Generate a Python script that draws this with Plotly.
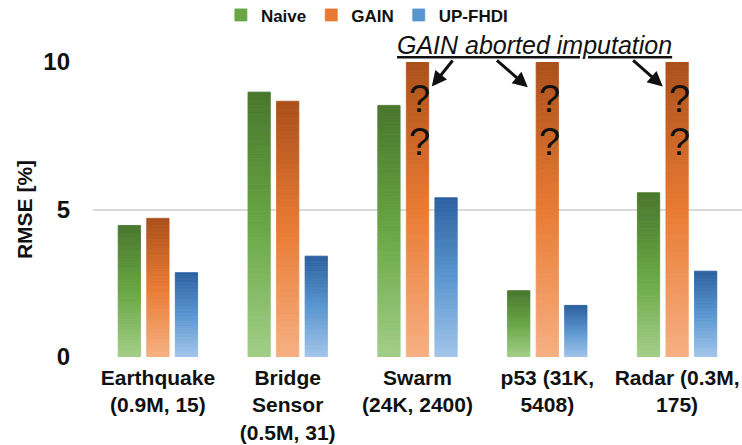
import plotly.graph_objects as go

# ---------------- data ----------------
categories = [
    "Earthquake<br>(0.9M, 15)",
    "Bridge<br>Sensor<br>(0.5M, 31)",
    "Swarm<br>(24K, 2400)",
    "p53 (31K,<br>5408)",
    "Radar (0.3M,<br>175)",
]
series_names = ["Naive", "GAIN", "UP-FHDI"]
naive_rmse = [4.46, 8.98, 8.53, 2.25, 5.57]
gain_rmse = [4.70, 8.67, 10.0, 10.0, 10.0]
upfhdi_rmse = [2.86, 3.42, 5.40, 1.75, 2.91]
gain_aborted = [False, False, True, True, True]
y_ticks = [0, 5, 10]

# ---------------- style ----------------
FONT = "Liberation Sans, Arial, sans-serif"
N_SLICES = 60
BAR_W = 0.172
SLOT = 0.22
# gradient stops: (bottom light, middle base, top dark)
gradients = [
    ("#a2cf88", "#69a644", "#48772d"),
    ("#f6b083", "#e97b33", "#ab501b"),
    ("#a3c5ea", "#5a96d0", "#2c61a0"),
]


def hex2rgb(h):
    h = h.lstrip("#")
    return tuple(int(h[i:i + 2], 16) for i in (0, 2, 4))


def grad_color(stops, t):
    a, b, c = (hex2rgb(s) for s in stops)
    if t <= 0.5:
        u = t / 0.5
        p, q = a, b
    else:
        u = (t - 0.5) / 0.5
        p, q = b, c
    r = [round(p[i] + (q[i] - p[i]) * u) for i in range(3)]
    return "rgb(%d,%d,%d)" % tuple(r)


fig = go.Figure()
all_series = [naive_rmse, gain_rmse, upfhdi_rmse]
for s_idx, (name, vals) in enumerate(zip(series_names, all_series)):
    offset = (s_idx - 1) * SLOT - BAR_W / 2
    for k in range(N_SLICES):
        t = (k + 0.5) / N_SLICES
        col = grad_color(gradients[s_idx], t)
        fig.add_trace(go.Bar(
            x=categories,
            y=[v / N_SLICES for v in vals],
            base=[k * v / N_SLICES for v in vals],
            offset=offset,
            width=BAR_W,
            marker=dict(color=col, line=dict(width=0.8, color=col)),
            name=name,
            legendgroup=name,
            showlegend=(k == N_SLICES // 2),
            hoverinfo="skip",
        ))

annotations = []
# question marks on aborted GAIN bars
Q_LEVELS = [8.75, 7.28]
for cat, aborted in zip(categories, gain_aborted):
    if aborted:
        for qy in Q_LEVELS:
            annotations.append(dict(
                x=cat, y=qy, xref="x", yref="y", text="?", showarrow=False,
                xshift=2, font=dict(family=FONT, size=38, color="#111111"),
            ))

# heading (paper coordinates, above the plot area)
annotations.append(dict(
    x=0.681, y=1.058, xref="paper", yref="paper", xanchor="center", yanchor="middle",
    text="<i><u>GAIN aborted imputation</u></i>", showarrow=False,
    font=dict(family=FONT, size=25, color="#111111"),
))

# arrows (tail -> head)
arrows = [
    ((2.28, 10.1), (2.11, 9.17)),
    ((2.60, 10.1), (2.85, 9.14)),
    ((3.65, 10.1), (3.89, 9.17)),
]
for (tx, ty), (hx, hy) in arrows:
    annotations.append(dict(
        x=hx, y=hy, ax=tx, ay=ty, xref="x", yref="y", axref="x", ayref="y",
        text="", showarrow=True, arrowhead=2, arrowsize=1.0, arrowwidth=3,
        arrowcolor="#111111", standoff=0, startstandoff=0,
    ))

fig.update_layout(
    width=742, height=445,
    margin=dict(l=93, r=0, t=62, b=88, autoexpand=False),
    paper_bgcolor="white", plot_bgcolor="white",
    barmode="overlay",
    font=dict(family=FONT, color="#111111"),
    showlegend=True,
    legend=dict(
        orientation="h", x=0.422, xanchor="center", y=1.158, yanchor="middle",
        font=dict(family=FONT, size=17, weight="bold", color="#111111"),
        bgcolor="rgba(0,0,0,0)", itemclick=False, itemdoubleclick=False,
        itemwidth=30, tracegroupgap=0,
    ),
    xaxis=dict(
        type="category", categoryorder="array", categoryarray=categories,
        range=[-0.5, len(categories) - 0.5], automargin=False,
        showgrid=False, showline=False, zeroline=False, ticks="",
        tickfont=dict(family=FONT, size=21, weight="bold", color="#111111"),
        ticklabelstandoff=6,
    ),
    yaxis=dict(
        range=[0, 10], tickvals=y_ticks, ticktext=[str(v) for v in y_ticks],
        automargin=False,
        showgrid=True, gridcolor="#d9d9d9", gridwidth=1.5,
        zeroline=False, showline=False, ticks="",
        tickfont=dict(family=FONT, size=24, weight="bold", color="#111111"),
        ticklabelstandoff=22,
        title=dict(text="RMSE [%]", standoff=4,
                   font=dict(family=FONT, size=21, weight="bold", color="#111111")),
    ),
    annotations=annotations,
)

fig.write_html("out.html")
